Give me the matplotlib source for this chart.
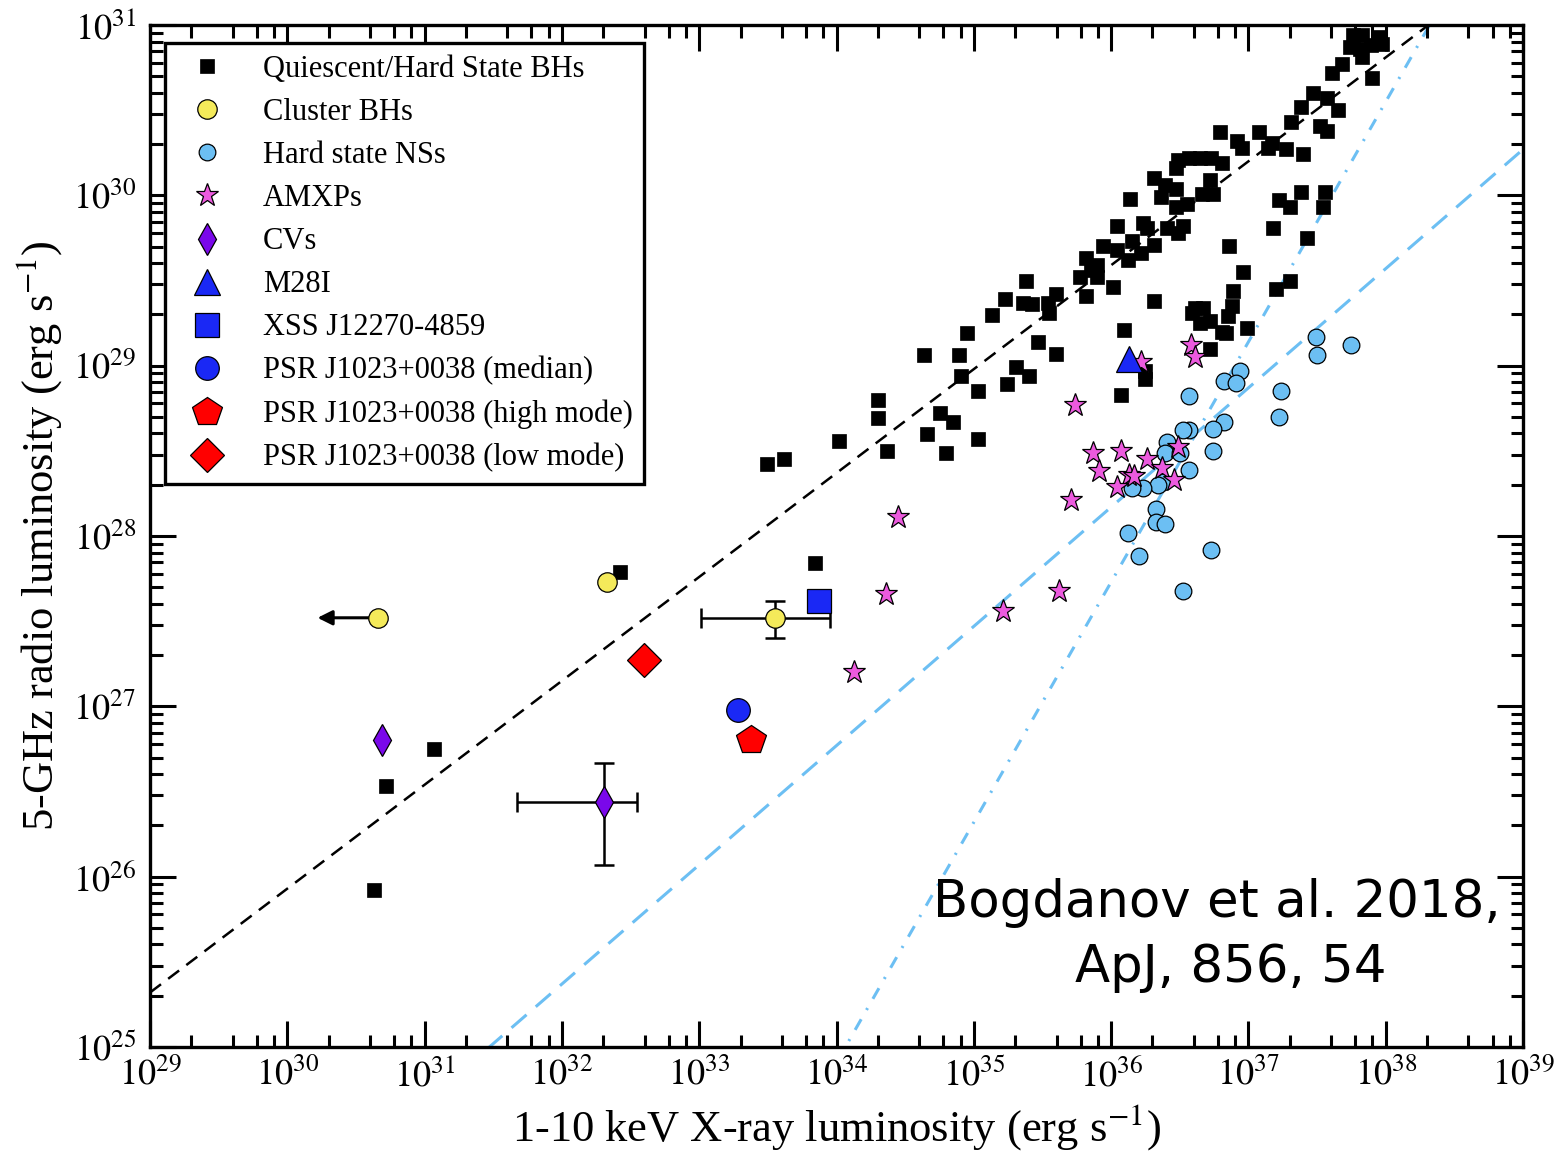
import numpy as np
import matplotlib
matplotlib.use("Agg")
import matplotlib.pyplot as plt
from matplotlib.ticker import FixedLocator, FixedFormatter, LogLocator, NullFormatter

plt.rcParams['font.family'] = ['Liberation Serif', 'DejaVu Serif']
plt.rcParams['mathtext.fontset'] = 'stix'

# ---- data: log10 luminosities in erg/s ----
# Quiescent / hard-state black holes
bh_log_lx = [30.63, 30.72, 31.07, 32.42, 33.49, 33.62, 33.84, 34.02, 34.30, 34.30,
             34.37, 34.64, 34.66, 34.75, 34.85, 34.80, 35.03, 34.95, 34.89, 34.91,
             35.03, 35.13, 35.23, 35.38, 35.36, 35.42, 35.31, 35.40, 35.24, 35.47,
             35.54, 35.60, 35.55, 35.60, 35.82, 35.77, 35.90, 35.85, 35.82, 35.90,
             36.01, 35.94, 36.04, 36.12, 36.04, 36.15, 36.22, 36.31, 36.23, 36.26,
             36.14, 36.31, 36.39, 36.36, 36.47, 36.41, 36.52, 36.49, 36.47, 36.55,
             36.72, 36.66, 36.74, 36.49, 36.57, 36.65, 36.73, 36.81, 36.47, 36.79,
             36.92, 36.95, 37.08, 37.14, 37.17, 37.27, 37.40, 37.31, 37.38, 37.47,
             37.57, 37.65, 37.52, 37.57, 37.61, 37.68, 37.74, 37.76, 37.83, 37.94,
             37.81, 37.89, 37.97, 37.83, 37.90, 37.22, 37.30, 37.38, 37.56, 37.54,
             37.18, 37.43, 37.30, 37.20, 36.86, 36.96, 36.89, 36.88, 36.85, 36.84,
             36.99, 36.31, 36.61, 36.67, 36.59, 36.65, 36.72, 36.81, 36.72, 36.25,
             36.25, 36.09, 36.07]
bh_log_lr = [25.92, 26.53, 26.75, 27.79, 28.42, 28.45, 27.84, 28.56, 28.80, 28.69,
             28.50, 29.06, 28.60, 28.72, 28.67, 28.49, 28.57, 29.19, 29.06, 28.94,
             28.85, 29.30, 29.39, 29.50, 29.37, 29.36, 28.99, 28.94, 28.89, 29.14,
             29.37, 29.42, 29.31, 29.07, 29.41, 29.52, 29.52, 29.56, 29.63, 29.59,
             29.46, 29.70, 29.68, 29.62, 29.82, 29.73, 29.66, 29.71, 29.84, 29.81,
             29.98, 30.10, 30.06, 29.99, 30.04, 29.81, 29.82, 29.78, 29.93, 29.95,
             30.09, 30.01, 30.01, 30.21, 30.22, 30.22, 30.22, 30.19, 30.16, 30.37,
             30.32, 30.28, 30.37, 30.28, 30.31, 30.27, 30.24, 30.43, 30.52, 30.60,
             30.57, 30.50, 30.41, 30.38, 30.72, 30.77, 30.87, 30.94, 30.94, 30.93,
             30.86, 30.88, 30.89, 30.81, 30.69, 29.97, 29.93, 30.02, 30.02, 29.93,
             29.81, 29.75, 29.50, 29.45, 29.70, 29.55, 29.44, 29.35, 29.29, 29.19,
             29.22, 29.38, 29.34, 29.34, 29.31, 29.25, 29.26, 29.20, 29.10, 28.97,
             28.92, 29.21, 28.83]

# Globular-cluster black holes (first one is an X-ray upper limit)
cbh_log_lx = [30.66, 32.33, 33.55]
cbh_log_lr = [27.52, 27.73, 27.52]
cbh_ul_log_lx = 30.22
cbh_err_log_lx = [33.01, 33.95]
cbh_err_log_lr = [27.40, 27.62]

# Hard-state neutron stars
ns_log_lx = [37.49, 37.75, 37.50, 36.94, 36.82, 36.91, 37.24, 36.57, 37.22, 36.82,
             36.74, 36.57, 36.52, 36.41, 36.39, 36.50, 36.74, 36.57, 36.38, 36.34,
             36.23, 36.15, 36.33, 36.33, 36.39, 36.12, 36.20, 36.73, 36.52]
ns_log_lr = [29.17, 29.12, 29.06, 28.97, 28.91, 28.90, 28.85, 28.82, 28.70, 28.67,
             28.63, 28.62, 28.62, 28.55, 28.49, 28.49, 28.50, 28.39, 28.32, 28.30,
             28.28, 28.28, 28.16, 28.08, 28.07, 28.02, 27.88, 27.92, 27.68]

# Accreting millisecond X-ray pulsars
amxp_log_lx = [35.74, 35.87, 36.07, 35.91, 36.13, 36.17, 36.04, 36.26, 36.37, 36.49,
               36.46, 35.71, 35.62, 35.21, 36.58, 36.61, 36.22, 34.45, 34.36, 34.13]
amxp_log_lr = [28.77, 28.49, 28.50, 28.38, 28.36, 28.35, 28.29, 28.45, 28.40, 28.52,
               28.33, 28.21, 27.68, 27.56, 29.12, 29.05, 29.02, 28.11, 27.66, 27.20]

# Cataclysmic variables (second one has error bars)
cv_log_lx = [30.69, 32.31]
cv_log_lr = [26.80, 26.44]
cv_err_log_lx = [31.67, 32.55]
cv_err_log_lr = [26.07, 26.67]

# Individual sources
m28i = (36.13, 29.04)
xss = (33.87, 27.62)
psr_median = (33.28, 26.98)
psr_high = (33.38, 26.80)
psr_low = (32.60, 27.27)

# Correlation lines: log Lr = slope * (log Lx - 36) + norm
bh_fit = (0.61, 29.59)
ns_fit = (0.70, 28.17)
ns_steep_fit = (1.41, 27.73)

x_exps = list(range(29, 40))
y_exps = list(range(25, 32))

# ---- figure ----
fig = plt.figure(figsize=(15.61, 11.53), dpi=100)
ax = fig.add_axes([0.0961, 0.0919, 0.8796, 0.8864])
ax.set_xscale('log')
ax.set_yscale('log')
ax.set_xlim(1e29, 1e39)
ax.set_ylim(1e25, 1e31)

p = lambda v: 10.0 ** np.asarray(v, dtype=float)

lx_line = np.array([29.0, 39.0])
ax.plot(p(lx_line), p(bh_fit[0] * (lx_line - 36) + bh_fit[1]), color='k',
        lw=1.8, dashes=(5.5, 3.6), zorder=1)
ax.plot(p(lx_line), p(ns_fit[0] * (lx_line - 36) + ns_fit[1]), color='#6cbff3',
        lw=2.2, dashes=(6.5, 4), zorder=1)
ax.plot(p(lx_line), p(ns_steep_fit[0] * (lx_line - 36) + ns_steep_fit[1]),
        color='#6cbff3', lw=2.2, dashes=(4, 3.5, 0.7, 3.5), zorder=1)

ax.plot(p(bh_log_lx), p(bh_log_lr), ls='none', marker='s', ms=10.5, color='k',
        mec='k', mew=0.5, zorder=3, label='Quiescent/Hard State BHs')

# error bars and upper-limit arrow
ax.errorbar(p(cbh_log_lx[2]), p(cbh_log_lr[2]),
            xerr=[[p(cbh_log_lx[2]) - p(cbh_err_log_lx[0])], [p(cbh_err_log_lx[1]) - p(cbh_log_lx[2])]],
            yerr=[[p(cbh_log_lr[2]) - p(cbh_err_log_lr[0])], [p(cbh_err_log_lr[1]) - p(cbh_log_lr[2])]],
            fmt='none', ecolor='k', elinewidth=1.8, capsize=7, capthick=1.8, zorder=4)
ax.errorbar(p(cv_log_lx[1]), p(cv_log_lr[1]),
            xerr=[[p(cv_log_lx[1]) - p(cv_err_log_lx[0])], [p(cv_err_log_lx[1]) - p(cv_log_lx[1])]],
            yerr=[[p(cv_log_lr[1]) - p(cv_err_log_lr[0])], [p(cv_err_log_lr[1]) - p(cv_log_lr[1])]],
            fmt='none', ecolor='k', elinewidth=1.8, capsize=7, capthick=1.8, zorder=4)
ax.annotate('', xy=(p(cbh_ul_log_lx), p(cbh_log_lr[0])),
            xytext=(p(cbh_log_lx[0]), p(cbh_log_lr[0])),
            arrowprops=dict(arrowstyle='-|>', color='k', lw=2.2, mutation_scale=22,
                            shrinkA=0, shrinkB=0), zorder=4)

ax.plot(p(cbh_log_lx), p(cbh_log_lr), ls='none', marker='o', ms=14,
        mfc='#f4ea5a', mec='k', mew=0.9, zorder=5, label='Cluster BHs')
ax.plot(p(ns_log_lx), p(ns_log_lr), ls='none', marker='o', ms=12,
        mfc='#6cbff3', mec='k', mew=0.9, zorder=4, label='Hard state NSs')
ax.plot(p(amxp_log_lx), p(amxp_log_lr), ls='none', marker='*', ms=17,
        mfc='#ec5ade', mec='k', mew=0.9, zorder=5, label='AMXPs')
ax.plot(p(cv_log_lx), p(cv_log_lr), ls='none', marker='d', ms=16,
        mfc='#7a08ea', mec='k', mew=0.9, zorder=5, label='CVs')
ax.plot(p(m28i[0]), p(m28i[1]), ls='none', marker='^', ms=19,
        mfc='#1a28f5', mec='k', mew=0.9, zorder=5, label='M28I')
ax.plot(p(xss[0]), p(xss[1]), ls='none', marker='s', ms=17,
        mfc='#1a28f5', mec='k', mew=0.9, zorder=5, label='XSS J12270-4859')
ax.plot(p(psr_median[0]), p(psr_median[1]), ls='none', marker='o', ms=17,
        mfc='#1a28f5', mec='k', mew=0.9, zorder=5, label='PSR J1023+0038 (median)')
ax.plot(p(psr_high[0]), p(psr_high[1]), ls='none', marker='p', ms=22,
        mfc='#ff0000', mec='k', mew=0.9, zorder=5, label='PSR J1023+0038 (high mode)')
ax.plot(p(psr_low[0]), p(psr_low[1]), ls='none', marker='D', ms=17,
        mfc='#ff0000', mec='k', mew=0.9, zorder=5, label='PSR J1023+0038 (low mode)')

# ---- axes styling ----
for s in ax.spines.values():
    s.set_linewidth(2.4)
ax.xaxis.set_major_locator(FixedLocator(p(x_exps)))
ax.xaxis.set_major_formatter(FixedFormatter([r'$10^{%d}$' % e for e in x_exps]))
ax.xaxis.set_minor_locator(LogLocator(base=10, subs=(2, 4, 6, 8), numticks=50))
ax.xaxis.set_minor_formatter(NullFormatter())
ax.yaxis.set_major_locator(FixedLocator(p(y_exps)))
ax.yaxis.set_major_formatter(FixedFormatter([r'$10^{%d}$' % e for e in y_exps]))
ax.yaxis.set_minor_locator(LogLocator(base=10, subs=np.arange(2, 10), numticks=50))
ax.yaxis.set_minor_formatter(NullFormatter())
ax.tick_params(which='both', direction='in', top=True, right=True, width=2.2,
               labelsize=26)
ax.tick_params(which='major', length=19)
ax.tick_params(which='minor', length=9)
ax.tick_params(axis='x', pad=8)
ax.tick_params(axis='y', pad=10)

ax.set_xlabel(r'1-10 keV X-ray luminosity (erg s$^{-1}$)', fontsize=32, labelpad=6)
ax.set_ylabel(r'5-GHz radio luminosity (erg s$^{-1}$)', fontsize=32, labelpad=6)

leg = ax.legend(loc='upper left', bbox_to_anchor=(0.011, 0.982), borderaxespad=0,
                numpoints=1, fontsize=22, frameon=True, fancybox=False,
                edgecolor='k', framealpha=1, labelspacing=0.46, borderpad=0.38,
                handlelength=2.0, handletextpad=0.82)
leg.get_frame().set_linewidth(2.4)

ax.text(0.570, 0.127, 'Bogdanov et al. 2018,', transform=ax.transAxes,
        fontsize=37, family='DejaVu Sans', ha='left', va='baseline', zorder=6)
ax.text(0.674, 0.064, 'ApJ, 856, 54', transform=ax.transAxes,
        fontsize=37, family='DejaVu Sans', ha='left', va='baseline', zorder=6)

fig.savefig('out.png', dpi=100)
